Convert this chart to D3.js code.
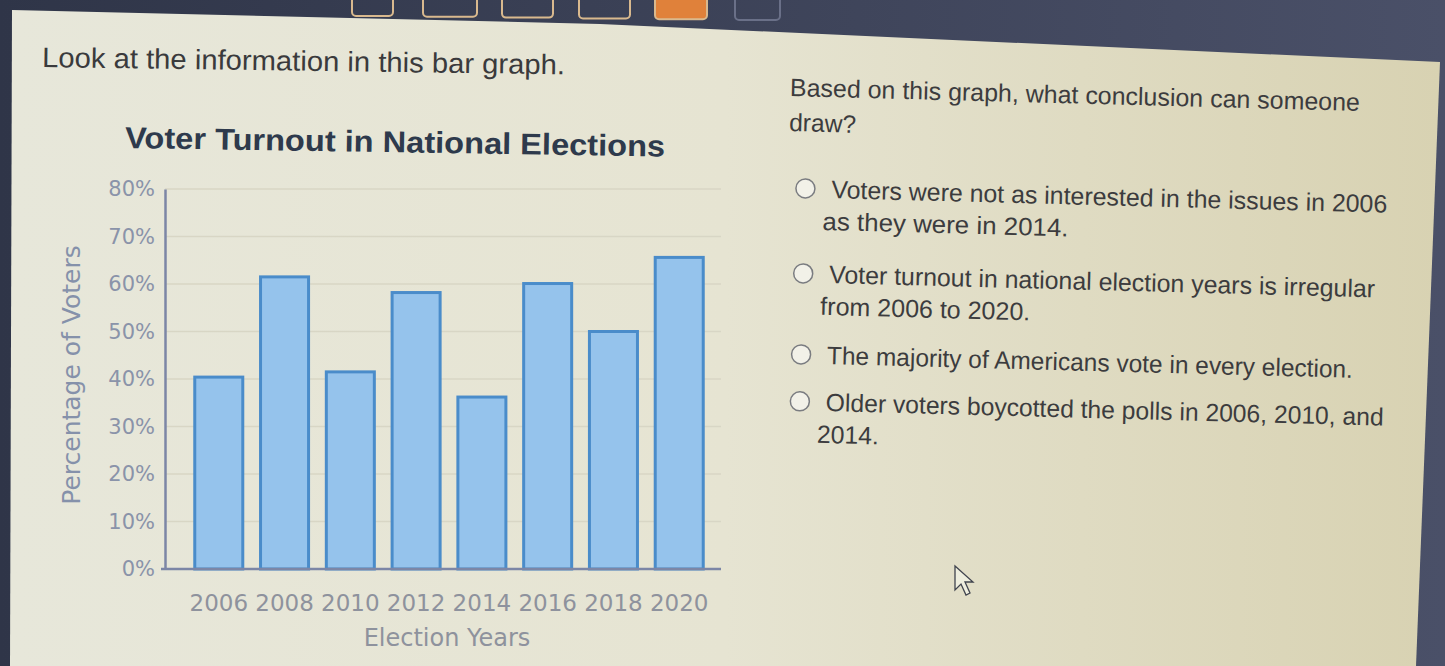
<!DOCTYPE html>
<html>
<head>
<meta charset="utf-8">
<script src="https://cdn.jsdelivr.net/npm/d3@7"></script>
<style>
  html, body { margin: 0; padding: 0; background: #3b4157; }
  svg { display: block; }
</style>
</head>
<body>
<div id="chart"></div>
<script>
// data
const years = ["2006", "2008", "2010", "2012", "2014", "2016", "2018", "2020"];
const turnout = [40.4, 61.5, 41.5, 58.2, 36.2, 60.1, 50.0, 65.6];
const yTicks = [0, 10, 20, 30, 40, 50, 60, 70, 80];
const question = ["Based on this graph, what conclusion can someone", "draw?"];
const answers = [
  ["Voters were not as interested in the issues in 2006", "as they were in 2014."],
  ["Voter turnout in national election years is irregular", "from 2006 to 2020."],
  ["The majority of Americans vote in every election."],
  ["Older voters boycotted the polls in 2006, 2010, and", "2014."]
];

const W = 1445, H = 666;
const plot = {left: 165, right: 721, top: 189, bottom: 569};

const svg = d3.select("#chart")
  .append("svg")
    .attr("width", W)
    .attr("height", H);

// page background (photo of a screen: dark frame, cream page)
const defs = svg.append("defs");
const pageGrad = defs.append("linearGradient").attr("id", "page").attr("x1", 0).attr("x2", 1).attr("y1", 0).attr("y2", 0);
pageGrad.append("stop").attr("offset", "0%").attr("stop-color", "#e7e7da");
pageGrad.append("stop").attr("offset", "50%").attr("stop-color", "#e6e4d2");
pageGrad.append("stop").attr("offset", "100%").attr("stop-color", "#d8d2b2");
const frameGrad = defs.append("linearGradient").attr("id", "frame").attr("x1", 0).attr("x2", 1).attr("y1", 0).attr("y2", 0);
frameGrad.append("stop").attr("offset", "0%").attr("stop-color", "#2f3548");
frameGrad.append("stop").attr("offset", "100%").attr("stop-color", "#4a5068");

svg.append("rect").attr("width", W).attr("height", H).attr("fill", "url(#frame)");
svg.append("path")
  .attr("d", "M12,10 L600,24 L1440,62 L1416,666 L10,666 Z")
  .attr("fill", "url(#page)");

// buttons peeking at the top edge
const buttons = [[352, 41], [423, 54], [502, 51], [579, 51], [655, 52], [735, 45]];
svg.append("g").selectAll("rect")
  .data(buttons)
  .join("rect")
    .attr("x", d => d[0])
    .attr("y", -20)
    .attr("width", d => d[1])
    .attr("height", (d, i) => 36 + i * 0.8)
    .attr("rx", 4)
    .attr("fill", (d, i) => i === 4 ? "#e0813a" : "none")
    .attr("stroke", (d, i) => i === 5 ? "#6a7088" : "#d9b98e")
    .attr("stroke-width", 2);

// left texts
svg.append("text")
  .attr("x", 42).attr("y", 67)
  .attr("transform", "rotate(0.8,42,67)")
  .attr("textLength", 523).attr("lengthAdjust", "spacingAndGlyphs")
  .style("font-family", "Liberation Sans, Arial, sans-serif")
  .style("font-size", "28px")
  .style("fill", "#3a3a3c")
  .text("Look at the information in this bar graph.");

svg.append("text")
  .attr("x", 125).attr("y", 148)
  .attr("transform", "rotate(0.9,125,148)")
  .attr("textLength", 540).attr("lengthAdjust", "spacingAndGlyphs")
  .style("font-family", "Liberation Sans, Arial, sans-serif")
  .style("font-size", "30px")
  .style("font-weight", "bold")
  .style("fill", "#2e3a4c")
  .text("Voter Turnout in National Elections");

// scales
const x = d3.scaleBand()
  .domain(years)
  .range([plot.left + 12, plot.right])
  .paddingInner(0.27)
  .paddingOuter(0.27);

const y = d3.scaleLinear()
  .domain([0, 80])
  .range([plot.bottom, plot.top]);

// gridlines
svg.append("g")
  .selectAll("line")
  .data(yTicks.filter(t => t > 0))
  .join("line")
    .attr("x1", plot.left)
    .attr("x2", plot.right)
    .attr("y1", d => y(d))
    .attr("y2", d => y(d))
    .attr("stroke", "#d8d6c5")
    .attr("stroke-width", 1.5);

// bars
svg.append("g")
  .selectAll("rect")
  .data(years.map((yr, i) => ({year: yr, value: turnout[i]})))
  .join("rect")
    .attr("x", d => x(d.year))
    .attr("y", d => y(d.value))
    .attr("width", x.bandwidth())
    .attr("height", d => y(0) - y(d.value))
    .attr("fill", "#95c3ec")
    .attr("stroke", "#4a8cca")
    .attr("stroke-width", 3);

// Y axis
const yAxis = svg.append("g")
  .attr("transform", `translate(${plot.left},0)`)
  .call(d3.axisLeft(y).tickValues(yTicks).tickFormat(d => d + "%").tickSize(0).tickPadding(10));
yAxis.select(".domain").attr("stroke", "#7c86a6").attr("stroke-width", 2.5);
yAxis.selectAll("text")
  .style("font-family", "DejaVu Sans, sans-serif")
  .style("font-size", "21px")
  .style("fill", "#8a93a9");

// X axis
const xAxis = svg.append("g")
  .attr("transform", `translate(0,${plot.bottom})`)
  .call(d3.axisBottom(x).tickSize(0).tickPadding(26));
xAxis.select(".domain").remove();
xAxis.selectAll("text")
  .style("font-family", "DejaVu Sans, sans-serif")
  .style("font-size", "23px")
  .style("fill", "#8e929d");
svg.append("line")
  .attr("x1", plot.left - 4).attr("x2", plot.right)
  .attr("y1", plot.bottom).attr("y2", plot.bottom)
  .attr("stroke", "#7c86a6").attr("stroke-width", 2.5);

// axis labels
svg.append("text")
  .attr("transform", "translate(80,375) rotate(-90)")
  .style("text-anchor", "middle")
  .style("font-family", "DejaVu Sans, sans-serif")
  .style("font-size", "25px")
  .style("fill", "#8591aa")
  .text("Percentage of Voters");

svg.append("text")
  .attr("x", (plot.left + plot.right) / 2 + 4)
  .attr("y", 646)
  .style("text-anchor", "middle")
  .style("font-family", "DejaVu Sans, sans-serif")
  .style("font-size", "24px")
  .style("fill", "#8e929d")
  .text("Election Years");

// question and answer choices
const qa = svg.append("g")
  .attr("transform", "rotate(1.5,790,90)")
  .style("font-family", "Liberation Sans, Arial, sans-serif")
  .style("fill", "#3c3c3e");

const qWidths = [570, 67];
question.forEach((t, i) => {
  qa.append("text")
    .attr("x", 790).attr("y", 96 + i * 35)
    .attr("textLength", qWidths[i]).attr("lengthAdjust", "spacingAndGlyphs")
    .style("font-size", "25px")
    .text(t);
});

const answerTop = [197, 282, 363, 410];
const lineWidths = [[556, 246], [546, 210], [526], [558, 62]];
answers.forEach((lines, i) => {
  qa.append("circle")
    .attr("cx", 808).attr("cy", answerTop[i] - 9)
    .attr("r", 9.5)
    .attr("fill", "#f2f1e8")
    .attr("stroke", "#7a7c80")
    .attr("stroke-width", 1.5);
  lines.forEach((t, j) => {
    qa.append("text")
      .attr("x", j === 0 ? 834 : 826)
      .attr("y", answerTop[i] + j * 32)
      .attr("textLength", lineWidths[i][j]).attr("lengthAdjust", "spacingAndGlyphs")
      .style("font-size", "25px")
      .text(t);
  });
});

// mouse pointer
svg.append("path")
  .attr("d", "M955,566 L955,590 L961,584 L966,595 L970,593 L965,582 L973,582 Z")
  .attr("fill", "#eeeede")
  .attr("stroke", "#40444e")
  .attr("stroke-width", 1.3);
</script>
</body>
</html>
